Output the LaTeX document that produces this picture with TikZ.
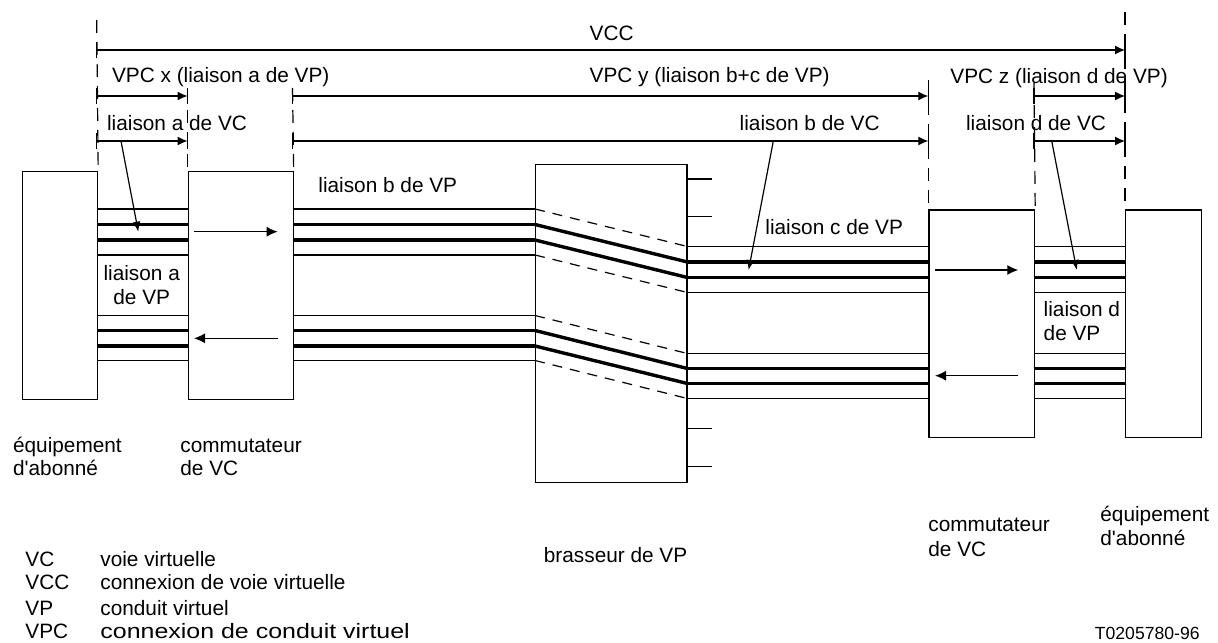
\documentclass[tikz,border=0pt]{standalone}
\usepackage{fontspec}
\usepackage{graphicx}
\setmainfont{Liberation Sans}
\newfontfamily\plainfont{Liberation Sans}[Ligatures=TeXOff]
\usetikzlibrary{arrows.meta}
\newcommand\apos{{\plainfont\char39}}
\begin{document}
\begin{tikzpicture}[x=0.5pt,y=-0.5pt,
  lthin/.style={line width=0.6pt},
  lthick/.style={line width=1.7pt},
  ldash/.style={line width=0.6pt, dash pattern=on 5pt off 4pt},
  boxst/.style={draw, line width=0.6pt, inner sep=0pt, anchor=north west, fill=none},
  dashv/.style={line width=0.6pt, dash pattern=on 6.5pt off 4.5pt},
  tick/.style={line width=0.6pt},
  dimarrow/.style={line width=0.6pt, -{Latex[length=5pt,width=4.5pt]}},
  flow/.style={line width=0.6pt, -{Latex[length=5.5pt,width=5pt]}},
  pointer/.style={line width=0.6pt, -{Latex[length=5pt,width=4pt]}},
  lbl/.style={inner sep=0pt, anchor=base west, font=\fontsize{10.4}{12}\selectfont},
  lblc/.style={inner sep=0pt, anchor=base, font=\fontsize{10.4}{12}\selectfont},
]
\useasboundingbox (0,0) rectangle (1218,642);

% boxes
\node[boxst, minimum width=37.5pt, minimum height=114pt] (eqL) at (22,171) {};
\node[boxst, minimum width=52.5pt, minimum height=114pt] (comL) at (187.5,171) {};
\node[boxst, minimum width=75.65pt, minimum height=158.85pt] (brass) at (535,164) {};
\node[boxst, minimum width=52.85pt, minimum height=113.7pt] (comR) at (928.3,209.3) {};
\node[boxst, minimum width=38pt, minimum height=113.7pt] (eqR) at (1125,209.3) {};

% dashed verticals
\draw[dashv] (96.7,20) -- (eqL.north east);
\draw[dashv] (187.5,88) -- (comL.north west);
\draw[dashv] (292.5,88) -- (comL.north east);
\draw[dashv] (928.3,80) -- (comR.north west);
\draw[dashv] (1034,83) -- (comR.north east);
\draw[dashv] (1125,12) -- (eqR.north west);

% dimension arrows
\coordinate (vccA) at (96.7,50);   \coordinate (vccB) at (1125,50);
\coordinate (vpxA) at (96.7,96);   \coordinate (vpxB) at (187.5,96);
\coordinate (vcaA) at (96.7,141);  \coordinate (vcaB) at (187.5,141);
\coordinate (vpyA) at (292.5,96);  \coordinate (vpyB) at (928.3,96);
\coordinate (vcbA) at (292.5,141); \coordinate (vcbB) at (928.3,141);
\coordinate (vpzA) at (1034,96);   \coordinate (vpzB) at (1125,96);
\coordinate (vcdA) at (1034,141);  \coordinate (vcdB) at (1125,141);
\foreach \a/\b in {vccA/vccB, vpxA/vpxB, vcaA/vcaB, vpyA/vpyB, vcbA/vcbB, vpzA/vpzB, vcdA/vcdB}{
  \draw[dimarrow] (\a) -- (\b);
  \draw[tick] ([yshift=-4pt]\a) -- ([yshift=4pt]\a);
  \draw[tick] ([yshift=-4pt]\b) -- ([yshift=4pt]\b);
}

% horizontal lines left
\foreach \y/\s in {209/lthin, 224.5/lthick, 240/lthick, 255/lthin, 315.5/lthin, 330.5/lthick, 346/lthick, 360.5/lthin}{
  \draw[\s] (eqL.east |- 0,\y) -- (comL.west |- 0,\y);
  \draw[\s] (comL.east |- 0,\y) -- (brass.west |- 0,\y);
}
% horizontal lines right
\foreach \y/\s in {246.5/lthin, 262/lthick, 277.5/lthick, 292.5/lthin, 353.5/lthin, 368.5/lthick, 383.5/lthick, 398.5/lthin}{
  \draw[\s] (brass.east |- 0,\y) -- (comR.west |- 0,\y);
  \draw[\s] (comR.east |- 0,\y) -- (eqR.west |- 0,\y);
}
% diagonals in brasseur
\foreach \ya/\yb/\s in {209/246.5/ldash, 224.5/262/lthick, 240/277.5/lthick, 255/292.5/ldash,
                       315.5/353.5/ldash, 330.5/368.5/lthick, 346/383.5/lthick, 360.5/398.5/ldash}{
  \draw[\s] (brass.west |- 0,\ya) -- (brass.east |- 0,\yb);
}
% brasseur ticks
\foreach \y in {179,216.7,428.3,466.7}{
  \draw[lthin] (brass.east |- 0,\y) -- ++(24,0);
}

% flow arrows in switches
\draw[flow] (194,231.7) -- (277.7,231.7);
\draw[flow] (277.7,338.3) -- (194,338.3);
\draw[flow] (935,270) -- (1018.3,270);
\draw[flow] (1018.3,375.7) -- (935,375.7);

% pointers
\coordinate (pa) at (121,141);
\coordinate (pb) at (773.3,141);
\coordinate (pd) at (1051.7,141);
\coordinate (ta) at (138.3,231.7);
\coordinate (tb) at (748.6,270);
\coordinate (td) at (1076.7,270);
\draw[pointer] (pa) -- (ta);
\draw[pointer] (pb) -- (tb);
\draw[pointer] (pd) -- (td);

% labels
\node[lbl] (tvcc) at (589.3,41) {VCC};
\node[lbl] (tvpx) at (111.7,82.5) {VPC x (liaison a de VP)};
\node[lbl] (tvpy) at (589.3,82.7) {VPC y (liaison b+c de VP)};
\node[lbl] (tvpz) at (950,83.5) {VPC z (liaison d de VP)};
\node[lbl] (tvca) at (106.7,130) {liaison a de VC};
\node[lbl] (tvcb) at (739.3,130) {liaison b de VC};
\node[lbl] (tvcd) at (965.7,130) {liaison d de VC};
\node[lbl] (tvpb) at (318,192.5) {liaison b de VP};
\node[lbl] (tvpc) at (765,234) {liaison c de VP};
\node[lblc] (tvpa1) at (141.7,280.5) {liaison a};
\node[lblc] (tvpa2) at (141.7,304) {de VP};
\node[lbl] (tvpd1) at (1043.3,316) {liaison d};
\node[lbl] (tvpd2) at (1043.3,340) {de VP};
\node[lbl] (teqL1) at (12.7,452) {équipement};
\node[lbl] (teqL2) at (12.7,475.5) {d\apos abonné};
\node[lbl] (tcoL1) at (180,452) {commutateur};
\node[lbl] (tcoL2) at (180,475.5) {de VC};
\node[lbl] (tbra) at (543.5,562) {brasseur de VP};
\node[lbl] (tcoR1) at (928,531) {commutateur};
\node[lbl] (tcoR2) at (928,556) {de VC};
\node[lbl] (teqR1) at (1100,521) {équipement};
\node[lbl] (teqR2) at (1100,545.5) {d\apos abonné};

% legend
\node[lbl] (k1) at (25,566) {VC};
\node[lbl] (k2) at (25,589.5) {VCC};
\node[lbl] (k3) at (25,615) {VP};
\node[lbl] (k4) at (25,638.5) {VPC};
\node[lbl] (d1) at (100,566) {voie virtuelle};
\node[lbl] (d2) at (100,589.5) {connexion de voie virtuelle};
\node[lbl] (d3) at (100,615) {conduit virtuel};
\node[lbl] (d4) at (100,638.5) {\scalebox{1.2}[1]{connexion de conduit virtuel}};
\node[inner sep=0pt, anchor=base east, font=\fontsize{8.8}{10}\selectfont] (ref) at (1200,639) {T0205780-96};
\end{tikzpicture}
\end{document}
